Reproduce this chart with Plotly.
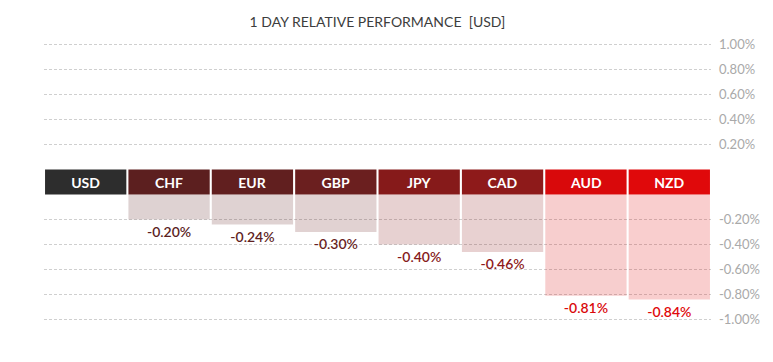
import plotly.graph_objects as go

currencies = ["USD", "CHF", "EUR", "GBP", "JPY", "CAD", "AUD", "NZD"]
performance = [0.00, -0.20, -0.24, -0.30, -0.40, -0.46, -0.81, -0.84]
header_colors = ["#2d2d2d", "#5c1f1f", "#611f1f", "#6b1f1f", "#861a1a", "#8e1a1a", "#d9090b", "#e0090b"]
pos_ticks = [0.2, 0.4, 0.6, 0.8, 1.0]
pos_tick_labels = ["0.20%", "0.40%", "0.60%", "0.80%", "1.00%"]
neg_ticks = [-0.2, -0.4, -0.6, -0.8, -1.0]
neg_tick_labels = ["-0.20%", "-0.40%", "-0.60%", "-0.80%", "-1.00%"]

GAP = 0.2  # height of the currency band, in axis units


def rgba(hex_color, a):
    h = hex_color.lstrip("#")
    r, g, b = int(h[0:2], 16), int(h[2:4], 16), int(h[4:6], 16)
    return f"rgba({r},{g},{b},{a})"


value_text = ["" if v == 0 else f"{v:.2f}%" for v in performance]

fig = go.Figure()

# performance bars hanging below the band
fig.add_trace(go.Bar(
    x=currencies,
    y=performance,
    base=[-GAP] * len(currencies),
    marker=dict(color=[rgba(c, 0.2) for c in header_colors], line=dict(width=0)),
    text=value_text,
    textposition="outside",
    textfont=dict(family="Lato", size=14, color=header_colors, weight=600),
    cliponaxis=False,
    hoverinfo="skip",
))

# currency header band
fig.add_trace(go.Bar(
    x=currencies,
    y=[-GAP] * len(currencies),
    base=[0] * len(currencies),
    marker=dict(color=header_colors, line=dict(width=0)),
    text=currencies,
    textposition="inside",
    insidetextanchor="middle",
    textangle=0,
    textfont=dict(family="Lato", size=14, color="white", weight="bold"),
    hoverinfo="skip",
))

fig.update_layout(
    width=765,
    height=354,
    margin=dict(l=36, r=62, t=34, b=40),
    paper_bgcolor="white",
    plot_bgcolor="white",
    barmode="overlay",
    bargap=0.025,
    showlegend=False,
    uniformtext=dict(mode="show", minsize=10),
    title=dict(
        text="1 DAY RELATIVE PERFORMANCE  [USD]",
        xref="paper",
        x=0.5,
        xanchor="center",
        y=1 - 14 / 354,
        yanchor="middle",
        font=dict(family="Lato", size=14, color="#3d3d3d"),
    ),
    xaxis=dict(
        showgrid=False,
        showticklabels=False,
        zeroline=False,
        showline=False,
        fixedrange=True,
    ),
    yaxis=dict(
        side="right",
        range=[-1.22, 1.02],
        tickvals=pos_ticks + [v - GAP for v in neg_ticks],
        ticktext=pos_tick_labels + neg_tick_labels,
        showgrid=True,
        gridcolor="#cfcfcf",
        griddash="3px,2px",
        gridwidth=1,
        zeroline=False,
        showline=False,
        ticks="",
        ticklabelstandoff=7,
        tickfont=dict(family="Lato", size=13, color="#a9a9a9"),
        fixedrange=True,
    ),
)

fig.write_html("out.html")
